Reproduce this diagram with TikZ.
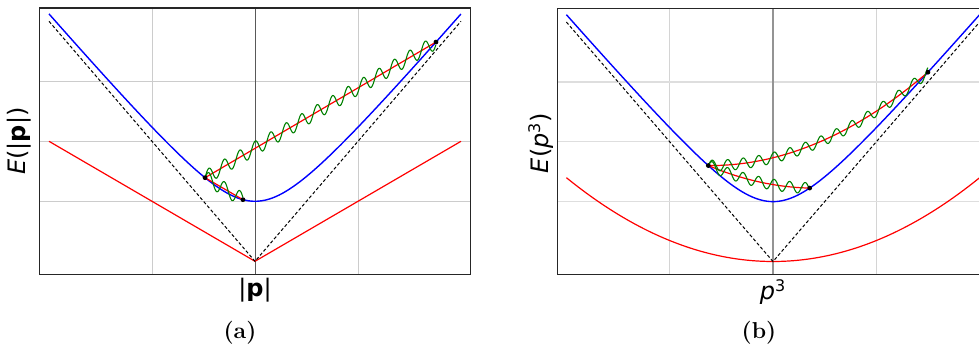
\documentclass[tikz,border=0pt]{standalone}
\usepackage{fontspec}
\newfontfamily\axisfont{DejaVu Sans}
\definecolor{plotblue}{RGB}{0,0,255}
\definecolor{plotred}{RGB}{255,0,0}
\definecolor{plotgreen}{RGB}{0,128,0}

\begin{document}
\begin{tikzpicture}[
    frame/.style={draw=black!85, line width=0.6pt},
    gridline/.style={draw=black!20, line width=0.5pt},
    axisline/.style={draw=black!65, line width=0.5pt},
    free/.style={plotblue, line width=0.7pt},
    cone/.style={black, line width=0.5pt, dash pattern=on 1.6pt off 1.1pt},
    photon/.style={plotred, line width=0.6pt},
    wiggle/.style={plotgreen, line width=0.55pt},
    vertex/.style={circle, fill=black, inner sep=0pt, minimum size=2.4pt},
    axislabel/.style={font=\axisfont\fontsize{12}{14}\selectfont},
    sublabel/.style={font=\fontsize{11.5}{13}\selectfont\bfseries}
]
\path[use as bounding box, clip] (0,0) rectangle (489.5pt,173.5pt);

% Panel (a)
\begin{scope}[shift={(127.5pt,42.85pt)}, x=51.5pt, y=30pt]
  \foreach \gx in {-1,1} \draw[gridline] (\gx,-0.22) -- (\gx,4.22);
  \foreach \gy in {1,2,3} \draw[gridline] (-2.09,\gy) -- (2.09,\gy);
  \draw[axisline] (0,-0.22) -- (0,4.22);
  \draw[frame] (-2.09,-0.22) rectangle (2.09,4.22);

  % Curves
  \draw[photon] (-2,2) -- (0,0) -- (2,2);
  \draw[cone] (-2,4) -- (0,0) -- (2,4);
  \draw[free] plot[domain=-2:2, samples=121] (\x, {sqrt(1+4*\x*\x)});

  % Emission
  \pgfmathsetmacro{\xa}{-0.485}
  \pgfmathsetmacro{\xb}{-0.117}
  \pgfmathsetmacro{\xc}{1.757}
  \pgfmathsetmacro{\ya}{sqrt(1+4*(\xa)*(\xa))}
  \pgfmathsetmacro{\yb}{sqrt(1+4*(\xb)*(\xb))}
  \pgfmathsetmacro{\yc}{sqrt(1+4*(\xc)*(\xc))}
  \coordinate (Aa) at (\xa,\ya);
  \coordinate (Ba) at (\xb,\yb);
  \coordinate (Ca) at (\xc,\yc);
  \draw[photon] (Ba) -- (Aa) -- (Ca);
  \draw[wiggle] plot[domain=\xa:\xc, samples=400] (\x, {\ya+(\yc-\ya)/(\xc-(\xa))*(\x-(\xa))+0.12*sin(360*(\x-(\xa))/0.15)});
  \draw[wiggle] plot[domain=\xa:\xb, samples=80] (\x, {\ya+(\yb-\ya)/(\xb-(\xa))*(\x-(\xa))+0.12*sin(360*(\x-(\xa))/0.15)});
  \node[vertex] (dotAa) at (Aa) {};
  \node[vertex] (dotBa) at (Ba) {};
  \node[vertex] (dotCa) at (Ca) {};
\end{scope}

% Panel (b)
\begin{scope}[shift={(386.5pt,42.75pt)}, x=51.65pt, y=29.93pt]
  \foreach \gx in {-1,1} \draw[gridline, line width=0.7pt, draw=black!17] (\gx,-0.22) -- (\gx,4.22);
  \foreach \gy in {1,2,3} \draw[gridline, line width=0.7pt, draw=black!13] (-2.09,\gy) -- (2.09,\gy);
  \draw[axisline, draw=black!42, line width=0.9pt] (0,-0.22) -- (0,4.22);
  \draw[frame] (-2.09,-0.22) rectangle (2.09,4.22);

  % Curves
  \draw[photon] plot[domain=-2:2, samples=81] (\x, {0.35*\x*\x});
  \draw[cone] (-2,4) -- (0,0) -- (2,4);
  \draw[free] plot[domain=-2:2, samples=121] (\x, {sqrt(1+4*\x*\x)});

  % Emission
  \pgfmathsetmacro{\xa}{-0.626}
  \pgfmathsetmacro{\xb}{0.355}
  \pgfmathsetmacro{\xc}{1.5}
  \pgfmathsetmacro{\ya}{sqrt(1+4*(\xa)*(\xa))}
  \pgfmathsetmacro{\yb}{sqrt(1+4*(\xb)*(\xb))}
  \pgfmathsetmacro{\yc}{sqrt(1+4*(\xc)*(\xc))}
  \coordinate (Ab) at (\xa,\ya);
  \coordinate (Bb) at (\xb,\yb);
  \coordinate (Cb) at (\xc,\yc);
  \draw[photon] plot[domain=\xa:\xc, samples=60] (\x, {\ya+(\yc-\ya)/(\xc-(\xa))*(\x-(\xa))+0.35*(\x-(\xa))*(\x-\xc)});
  \draw[photon] plot[domain=\xa:\xb, samples=40] (\x, {\ya+(\yb-\ya)/(\xb-(\xa))*(\x-(\xa))+0.35*(\x-(\xa))*(\x-\xb)});
  \draw[wiggle] plot[domain=\xa:\xc, samples=400] (\x, {\ya+(\yc-\ya)/(\xc-(\xa))*(\x-(\xa))+0.35*(\x-(\xa))*(\x-\xc)+0.09*sin(360*(\x-(\xa))/0.15)});
  \draw[wiggle] plot[domain=\xa:\xb, samples=200] (\x, {\ya+(\yb-\ya)/(\xb-(\xa))*(\x-(\xa))+0.35*(\x-(\xa))*(\x-\xb)+0.09*sin(360*(\x-(\xa))/0.15)});
  \node[vertex] (dotAb) at (Ab) {};
  \node[vertex] (dotBb) at (Bb) {};
  \node[vertex] (dotCb) at (Cb) {};
\end{scope}

% Labels
\node[axislabel] (xlabA) at (127.5pt,28.5pt) {|\textbf{p}|};
\node[axislabel, rotate=90] (ylabA) at (9.5pt,103pt) {\itshape E\upshape(|\textbf{p}|)};
\node[axislabel] (xlabB) at (386.5pt,27.5pt) {\itshape p\upshape\textsuperscript{3}};
\node[axislabel, rotate=90] (ylabB) at (270.5pt,102pt) {\itshape E\upshape(\itshape p\upshape\textsuperscript{3})};
\node[sublabel] (capA) at (120pt,7pt) {(a)};
\node[sublabel] (capB) at (379.5pt,7pt) {(b)};

\end{tikzpicture}
\end{document}
